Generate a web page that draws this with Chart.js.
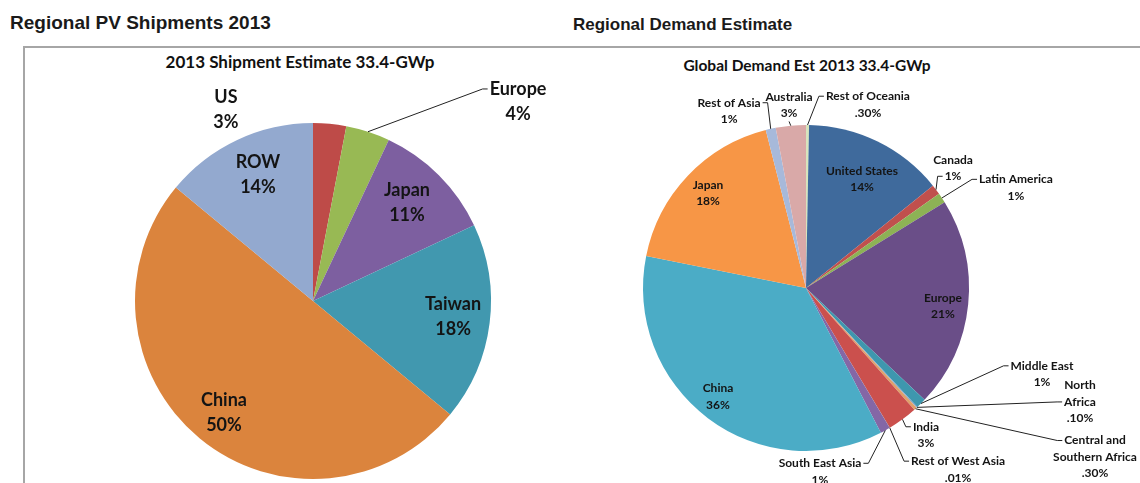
<!DOCTYPE html>
<html>
<head>
<meta charset="utf-8">
<script src="https://cdn.jsdelivr.net/npm/chart.js@4.4.1/dist/chart.umd.min.js"></script>
<style>
  body { margin: 0; width: 1140px; height: 483px; background: #fff; position: relative; overflow: hidden; }
  .heading { position: absolute; font-family: "Liberation Sans", Arial, sans-serif; font-weight: bold; color: #1a1a1a; white-space: nowrap; line-height: 20px; }
  .ctitle { position: absolute; font-family: Lato, "Noto Sans", sans-serif; font-weight: bold; color: #111; text-align: center; white-space: nowrap; }
  .rule { position: absolute; background: #a6a6a6; }
  .box { position: absolute; }
</style>
</head>
<body>
<div class="heading" style="left:10px; top:13px; font-size:19px;">Regional PV Shipments 2013</div>
<div class="heading" style="left:573px; top:15px; font-size:17px;">Regional Demand Estimate</div>
<div class="rule" style="left:23px; top:46px; width:1117px; height:2px;"></div>
<div class="rule" style="left:23px; top:46px; width:2px; height:437px;"></div>

<div class="ctitle" style="left:100px; top:52px; width:400px; font-size:17px; line-height:20px;">2013 Shipment Estimate 33.4-GWp</div>
<div class="ctitle" style="left:607px; top:56px; width:400px; font-size:15.5px; line-height:18px;">Global Demand Est 2013 33.4-GWp</div>

<div class="box" style="left:24px; top:49px; width:547px; height:434px;"><canvas id="shipChart"></canvas></div>
<div class="box" style="left:572px; top:49px; width:568px; height:434px;"><canvas id="demandChart"></canvas></div>

<script>
// Regional PV shipments 2013 (left pie)
const shipNames = ["US", "Europe", "Japan", "Taiwan", "China", "ROW"];
const shipValues = [3, 4, 11, 18, 50, 14];
const shipPct = ["3%", "4%", "11%", "18%", "50%", "14%"];
const shipColors = ["#BE4B48", "#98B954", "#7D5FA0", "#4198AF", "#DB843D", "#93A9CF"];

// Global demand estimate 2013 (right pie)
const demandNames = ["Rest of Oceania", "United States", "Canada", "Latin America", "Europe",
  "Middle East", "North\nAfrica", "Central and\nSouthern Africa", "India", "Rest of West Asia",
  "South East Asia", "China", "Japan", "Rest of Asia", "Australia"];
const demandValues = [0.3, 14, 1, 1, 21, 1, 0.1, 0.3, 3, 0.01, 1, 36, 18, 1, 3];
const demandPct = [".30%", "14%", "1%", "1%", "21%", "1%", ".10%", ".30%", "3%", ".01%", "1%", "36%", "18%", "1%", "3%"];
const demandColors = ["#D7E4BD", "#3F6A9C", "#C0504D", "#8DB255", "#6A4E88", "#3E97AE", "#7BA0CD",
  "#E0A06A", "#CB504D", "#9BBB59", "#8467A6", "#4BACC6", "#F79646", "#A7B9DA", "#D9A9A8"];

// label placement, in units of the pie radius from its centre
const shipLabelPos = [[-0.489, -1.076], [1.152, -1.121], [0.528, -0.553], [0.787, 0.09], [-0.5, 0.626], [-0.309, -0.711]];
const shipLeaders = [null, {side: "l", line: 0}, null, null, null, null];

const demandLabelPos = [[0.38, -1.126], [0.344, -0.669], [0.902, -0.736], [1.288, -0.616], [0.84, 0.11],
  [1.448, 0.528], [1.681, 0.699], [1.773, 1.037], [0.736, 0.902], [0.933, 1.113],
  [0.086, 1.126], [-0.54, 0.666], [-0.601, -0.583], [-0.472, -1.086], [-0.104, -1.123]];
const demandLeaders = [{side: "l", line: 0}, null, {side: "l", line: 1}, {side: "l", line: 0}, null,
  {side: "l", line: 0}, {side: "l", line: 1}, {side: "l", line: 0}, {side: "l", line: 0}, {side: "l", line: 0},
  {side: "r", line: 0}, null, null, {side: "r", line: 0}, {side: "b"}];

// draws the slice labels and leader lines
const pieLabels = {
  id: "pieLabels",
  afterDatasetsDraw(chart, args, opts) {
    const ctx = chart.ctx;
    const arcs = chart.getDatasetMeta(0).data;
    ctx.save();
    ctx.font = opts.font;
    ctx.fillStyle = "#141414";
    ctx.strokeStyle = "#222";
    ctx.lineWidth = 1;
    ctx.textAlign = "center";
    ctx.textBaseline = "middle";
    arcs.forEach((arc, i) => {
      const p = arc.getProps(["x", "y", "startAngle", "endAngle", "outerRadius"], true);
      const R = p.outerRadius;
      const lines = opts.names[i].split("\n").concat(opts.pct[i]);
      const cx = p.x + opts.pos[i][0] * R;
      const cy = p.y + opts.pos[i][1] * R;
      const lh = opts.lineHeight;
      const y0 = cy - (lines.length - 1) * lh / 2;
      lines.forEach((t, k) => ctx.fillText(t, cx, y0 + k * lh));

      const lead = opts.leaders[i];
      if (!lead) return;
      const mid = (p.startAngle + p.endAngle) / 2;
      const ax = p.x + Math.cos(mid) * R;
      const ay = p.y + Math.sin(mid) * R;
      ctx.beginPath();
      ctx.moveTo(ax, ay);
      if (lead.side === "b") {
        ctx.lineTo(cx, y0 + (lines.length - 1) * lh + lh / 2);
      } else {
        const ly = y0 + lead.line * lh;
        const w = ctx.measureText(lines[lead.line]).width;
        if (lead.side === "l") {
          const ex = cx - w / 2 - 2;
          ctx.lineTo(ex - 5, ly);
          ctx.lineTo(ex, ly);
        } else {
          const ex = cx + w / 2 + 2;
          ctx.lineTo(ex + 5, ly);
          ctx.lineTo(ex, ly);
        }
      }
      ctx.stroke();
    });
    ctx.restore();
  }
};

function makePie(id, names, values, colors, padding, labelOpts) {
  return new Chart(document.getElementById(id), {
    type: "pie",
    data: {
      labels: names,
      datasets: [{ data: values, backgroundColor: colors, borderWidth: 0, hoverOffset: 0 }]
    },
    options: {
      responsive: true,
      maintainAspectRatio: false,
      animation: false,
      layout: { padding: padding },
      plugins: {
        legend: { display: false },
        tooltip: { enabled: false },
        pieLabels: labelOpts
      }
    },
    plugins: [pieLabels]
  });
}

makePie("shipChart", shipNames, shipValues, shipColors,
  { left: 111, top: 74, right: 80, bottom: 4 },
  { names: shipNames, pct: shipPct, pos: shipLabelPos, leaders: shipLeaders,
    font: "bold 18px Lato", lineHeight: 25 });

makePie("demandChart", demandNames, demandValues, demandColors,
  { left: 71, top: 76, right: 171, bottom: 32 },
  { names: demandNames, pct: demandPct, pos: demandLabelPos, leaders: demandLeaders,
    font: "bold 12px Lato", lineHeight: 16.5 });
</script>
</body>
</html>
